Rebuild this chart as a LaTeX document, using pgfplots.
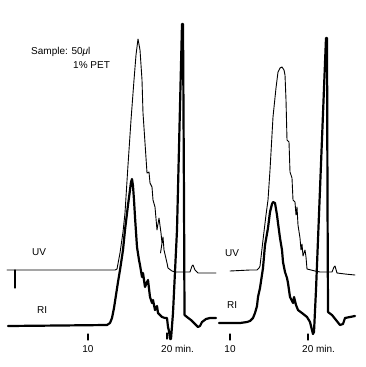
\documentclass[border=0pt]{standalone}
\usepackage{fontspec}
\setmainfont{Liberation Sans}
\usepackage{pgfplots}
\pgfplotsset{compat=1.18}
\begin{document}
\begin{tikzpicture}
\begin{axis}[
  name=main,
  width=366pt, height=367pt, scale only axis,
  xmin=0, xmax=366, ymin=0, ymax=367, y dir=reverse,
  axis lines=none, clip=false,
  every axis plot/.append style={black, line join=round, line cap=round},
  nodes={font=\fontsize{10}{12}\selectfont, inner sep=0pt, anchor=base west},
]
% ---- left panel, UV trace (thin)
\addplot[line width=0.9pt] coordinates {
(7,270)(115,270)(117,269)(120,253)(123,232)(125,213)(128,165)(131,120)(134,80)(136,55)(138,39)
(140,50)(142,80)(143,113)(145,143)(146,158)(147,173)(149,172)(150,183)(152,187)(153,200)(155,207)
(157,230)(159,218)(161,233)(162,243)(160.5,253)(163,237)(164,250)(167,263)(168,268)(172,271)
(175,272)(190,272)(192,266)(193,265)(195,270)(198,273)(216,273)};
% UV marker
\addplot[line width=1.2pt] coordinates {(15,270)(15,288)};
% ---- left panel, RI trace (thick)
\addplot[line width=2.2pt] coordinates {
(8,326)(60,325.5)(107,325)(110,323)(112,318)(114,308)(116,295)(118,282)(120,270)(123,250)(125,230)
(128,205)(130,190)(131,182)(132,179)(133,186)(134,200)(135,217)(136,232)(137,247)(139,260)(140,265)
(142,277)(143,273)(145,287)(147,282)(148,280)(150,297)(152,303)(153,300)(155,310)(157,306)(158,313)
(160,315)(162,317)(165,318)(167,318)(168,327)(169,331)(170,339)(171,339)(173,313)(177,230)(182,24)
(183,24)(184,200)(184.5,315)(187,317)(191,320)(195,324)(198,327)(200,326)(202,322)(206,319)(210,318)(216,318)};
% ---- right panel, UV trace (thin)
\addplot[line width=0.9pt] coordinates {
(230,271)(250,270)(257,270)(259,268)(260,266)(263,240)(266,215)(268,200)(270,170)(273,117)(276,88)
(277,80)(278,72)(280,68)(282,67)(284,70)(285,75)(286,100)(287,140)(289,142)(290,172)(292,178)
(293,200)(295,202)(296,215)(297,207)(298,225)(300,238)(301,250)(302,244)(303,256)(305,250)(306,257)
(307,269)(315,271)(320,272)(332,272)(334,267)(335,266)(337,273)(345,274)(355,275)};
% ---- right panel, RI trace (thick)
\addplot[line width=2.2pt] coordinates {
(219,323)(240,323)(247,322)(250,321)(253,318)(255,313)(257,306)(258,297)(260,288)(263,268)(265,245)
(268,228)(270,212)(272,204)(273,202)(275,203)(277,215)(278,223)(280,238)(282,250)(283,262)(285,272)
(287,278)(288,283)(290,297)(293,303)(294,297)(296,305)(298,310)(302,313)(307,317)(310,322)(312,330)
(313,334)(314,332)(316,290)(326,38)(327,38)(327.5,200)(328,312)(332,315)(336,320)(340,325)(343,324)
(345,318)(350,317)(355,316)};
% ---- time ticks
\addplot[line width=1.2pt] coordinates {(88,334)(88,340)};
\addplot[line width=1.2pt] coordinates {(167,333)(167,339)};
\addplot[line width=1.2pt] coordinates {(230,334)(230,340)};
\addplot[line width=1.2pt] coordinates {(308,334)(308,340)};
% ---- labels
\node at (axis cs:31,54) {Sample: 50{\itshape μ}l};
\node at (axis cs:73,68) {1\% PET};
\node at (axis cs:32,255) {UV};
\node at (axis cs:37,313) {RI};
\node at (axis cs:225,256) {UV};
\node at (axis cs:227,308) {RI};
\node[anchor=base] at (axis cs:88,352) {10};
\node at (axis cs:161,352) {20 min.};
\node[anchor=base] at (axis cs:230,352) {10};
\node at (axis cs:302,352) {20 min.};
\end{axis}
\pgfresetboundingbox
\path[use as bounding box] (main.south west) rectangle (main.north east);
\end{tikzpicture}
\end{document}
